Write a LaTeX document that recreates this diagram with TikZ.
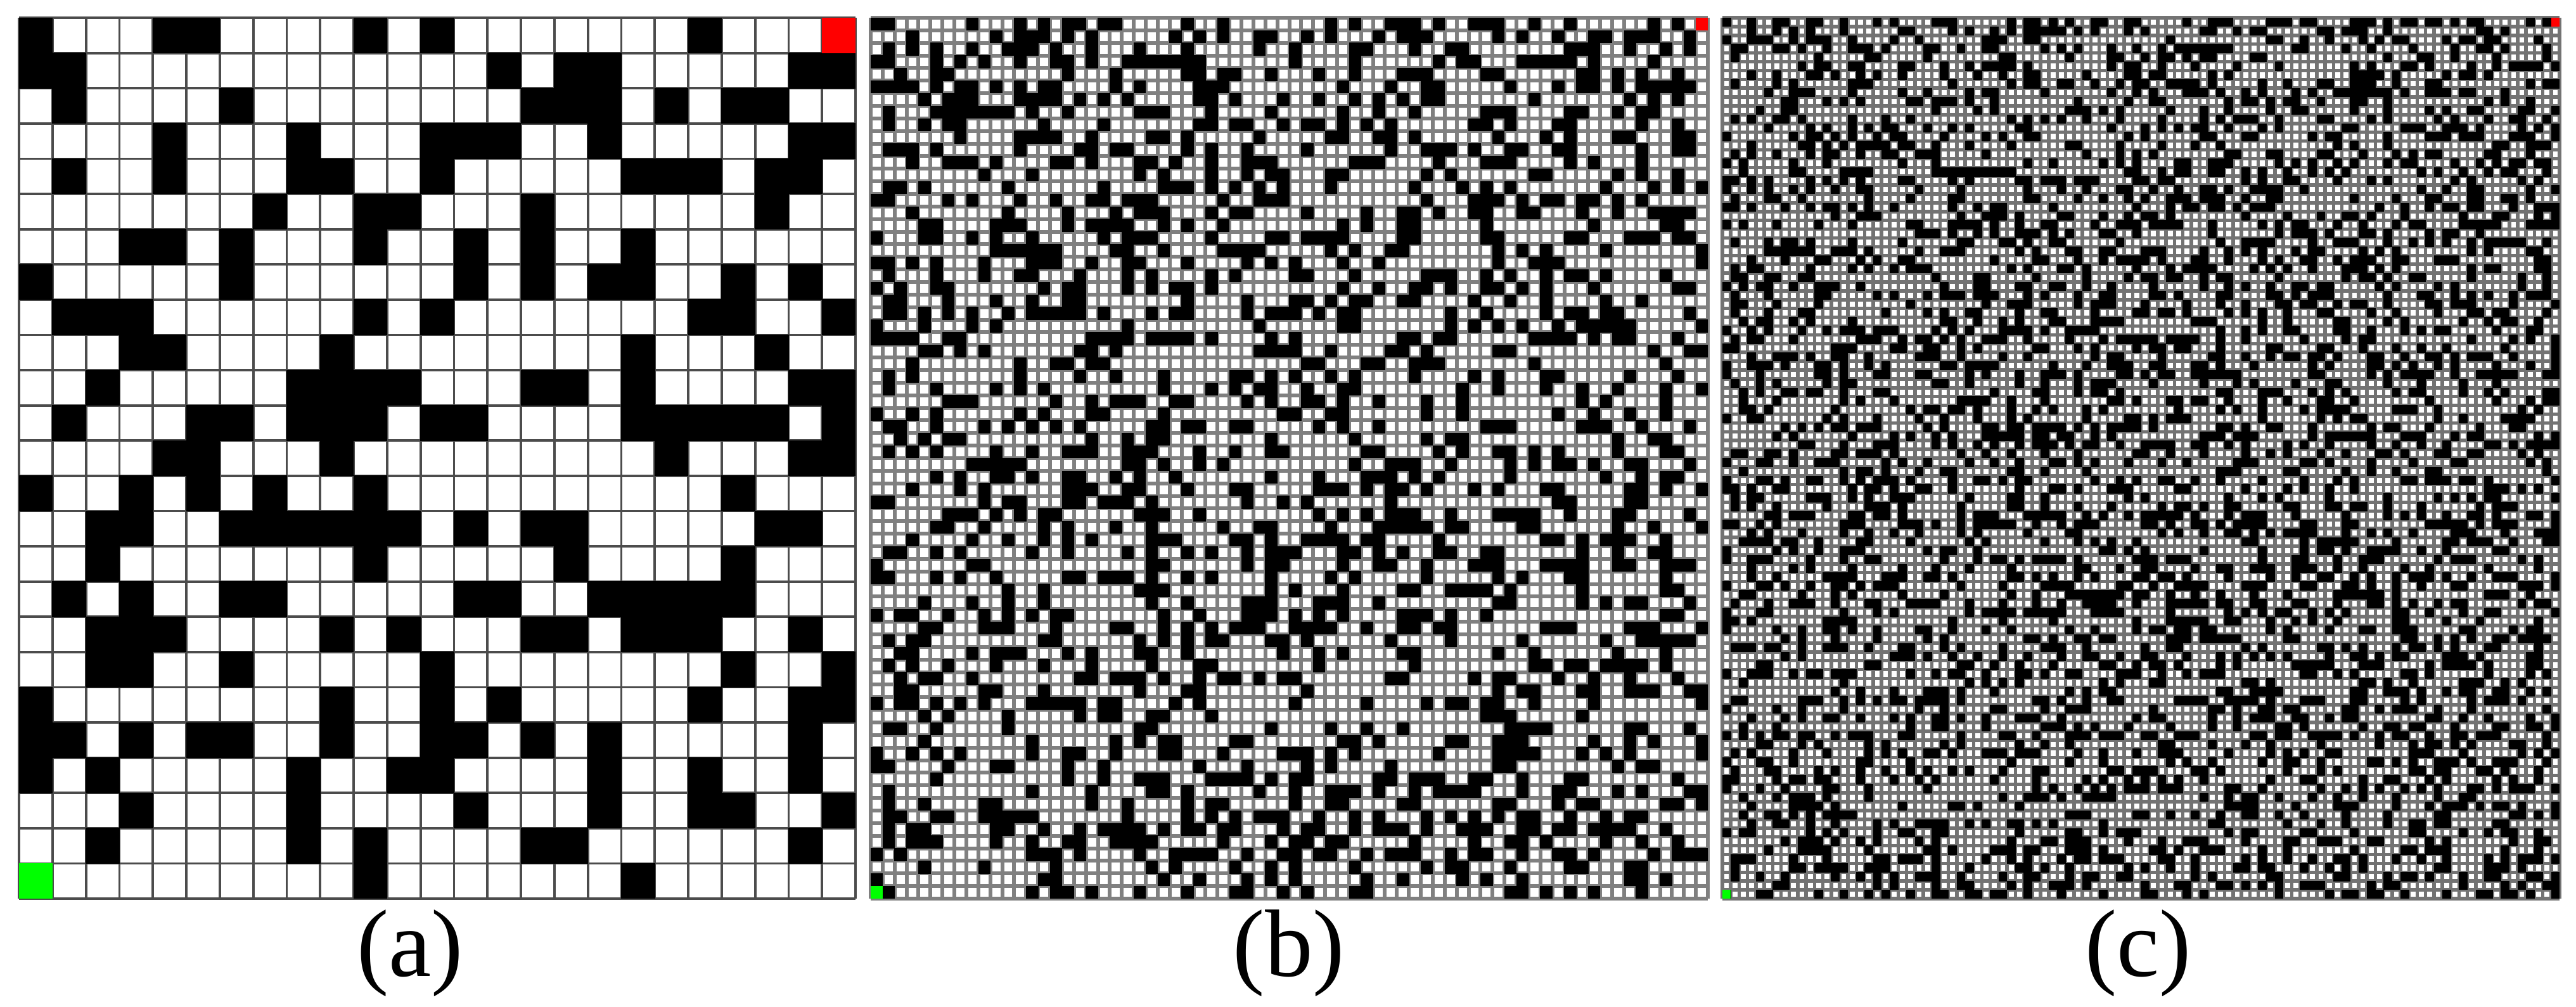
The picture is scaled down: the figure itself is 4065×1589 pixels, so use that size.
\documentclass[tikz,border=0pt]{standalone}
\usepackage{fontspec}
\setmainfont{Liberation Serif}
\newfontfamily\labfont{Liberation Serif}
\begin{document}
\begin{tikzpicture}[x=0.1mm,y=-0.1mm,
  lab/.style={anchor=base, inner sep=0pt, font=\labfont\fontsize{43}{50}\selectfont},
  gridA/.style={draw=black!70, line width=0.38mm},
  gridB/.style={draw=black!50, line width=0.6mm},
  gridC/.style={draw=black!55, line width=0.55mm},
  wall/.style={fill=black},
  goal/.style={fill={rgb,255:red,255;green,0;blue,0}},
  start/.style={fill={rgb,255:red,0;green,255;blue,0}}]
\useasboundingbox[fill=white] (0,0) rectangle (4065,1589);
% ---------- panel (a): 25 x 25 ----------
\def\ax{30}\def\ay{28}\def\aw{52.8}\def\ah{55.6}
\fill[white] (\ax,\ay) rectangle ({\ax+25*\aw},{\ay+25*\ah});
\foreach \i in {0,...,25}{
  \draw[gridA] ({\ax+\i*\aw},\ay) -- ({\ax+\i*\aw},{\ay+25*\ah});
  \draw[gridA] (\ax,{\ay+\i*\ah}) -- ({\ax+25*\aw},{\ay+\i*\ah});
}
\foreach \r/\cl in {
  0/{0,4,5,10,12,20},
  1/{0,1,14,16,17,23,24},
  2/{1,6,15,16,17,19,21,22},
  3/{4,8,12,13,14,17,23,24},
  4/{1,4,8,9,12,18,19,20,22,23},
  5/{7,10,11,15,22},
  6/{3,4,6,10,13,15,18},
  7/{0,6,13,15,17,18,21,23},
  8/{1,2,3,10,12,20,21,24},
  9/{3,4,9,18,22},
  10/{2,8,9,10,11,15,16,18,23,24},
  11/{1,5,6,8,9,10,12,13,18,19,20,21,22,24},
  12/{4,5,9,19,23,24},
  13/{0,3,5,7,10,21},
  14/{2,3,6,7,8,9,10,11,13,15,16,22,23},
  15/{2,10,16,21},
  16/{1,3,6,7,13,14,17,18,19,20,21},
  17/{2,3,4,9,11,15,16,18,19,20,23},
  18/{2,3,6,12,21,24},
  19/{0,9,12,14,20,23,24},
  20/{0,1,3,5,6,9,12,13,15,17,23},
  21/{0,2,8,11,12,17,20,23},
  22/{3,8,13,17,20,21,24},
  23/{2,8,10,15,16,23},
  24/{10,18}}{
  \foreach \c in \cl {
    \fill[wall] ({\ax+\c*\aw-0.4},{\ay+\r*\ah-0.4}) rectangle ++({\aw+0.8},{\ah+0.8});
  }
}
\fill[goal] ({\ax+24*\aw},\ay) rectangle ++(\aw,\ah);
\fill[start] (\ax,{\ay+24*\ah}) rectangle ++(\aw,\ah);
% ---------- panel (b): 70 x 70 ----------
\def\bx{1374}\def\by{28}\def\bw{18.871}\def\bh{19.857}
\fill[white] (\bx,\by) rectangle ({\bx+70*\bw},{\by+70*\bh});
\foreach \i in {0,...,70}{
  \draw[gridB] ({\bx+\i*\bw},\by) -- ({\bx+\i*\bw},{\by+70*\bh});
  \draw[gridB] (\bx,{\by+\i*\bh}) -- ({\bx+70*\bw},{\by+\i*\bh});
}
\pgfmathsetseed{4711}
\foreach \r in {0,...,69}{
  \foreach \c in {0,...,69}{
    \pgfmathrandominteger{\v}{0}{99}
    \ifnum\v<32
      \fill[wall] ({\bx+\c*\bw-0.3},{\by+\r*\bh-0.3}) rectangle ++({\bw+0.6},{\bh+0.6});
    \fi
  }
}
\fill[goal] ({\bx+69*\bw},\by) rectangle ++(\bw,\bh);
\fill[start] (\bx,{\by+69*\bh}) rectangle ++(\bw,\bh);
% ---------- panel (c): 100 x 100 ----------
\def\cx{2718}\def\cy{28}\def\cw{13.21}\def\ch{13.9}
\fill[white] (\cx,\cy) rectangle ({\cx+100*\cw},{\cy+100*\ch});
\foreach \i in {0,...,100}{
  \draw[gridC] ({\cx+\i*\cw},\cy) -- ({\cx+\i*\cw},{\cy+100*\ch});
  \draw[gridC] (\cx,{\cy+\i*\ch}) -- ({\cx+100*\cw},{\cy+\i*\ch});
}
\pgfmathsetseed{2024}
\foreach \r in {0,...,99}{
  \foreach \c in {0,...,99}{
    \pgfmathrandominteger{\v}{0}{99}
    \ifnum\v<33
      \fill[wall] ({\cx+\c*\cw-0.3},{\cy+\r*\ch-0.3}) rectangle ++({\cw+0.6},{\ch+0.6});
    \fi
  }
}
\fill[goal] ({\cx+99*\cw},\cy) rectangle ++(\cw,\ch);
\fill[start] (\cx,{\cy+99*\ch}) rectangle ++(\cw,\ch);
% ---------- labels ----------
\node[lab] (la) at (647,1540) {(a)};
\node[lab] (lb) at (2034,1540) {(b)};
\node[lab] (lc) at (3374,1540) {(c)};
\end{tikzpicture}
\end{document}
